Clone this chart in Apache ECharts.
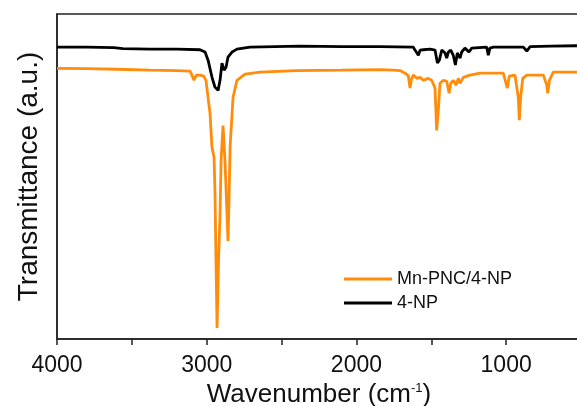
<!DOCTYPE html>
<html>
<head>
<meta charset="utf-8">
<script src="https://cdn.jsdelivr.net/npm/echarts@6/dist/echarts.min.js"></script>
<style>
html, body { margin: 0; padding: 0; background: #fff; }
#chart { width: 577px; height: 406px; }
</style>
</head>
<body>
<div id="chart"></div>
<script>
// wavenumber (cm-1) and transmittance (a.u.)
var npWave = [4000, 3800, 3620, 3560, 3379, 3200, 3045, 3011, 2991, 2965, 2945, 2924, 2911, 2898, 2884, 2871, 2858, 2831, 2798, 2711, 2377, 2100, 1842, 1620, 1609, 1586, 1575, 1553, 1508, 1475, 1459, 1446, 1430, 1408, 1397, 1386, 1370, 1353, 1339, 1326, 1308, 1297, 1275, 1248, 1230, 1130, 1119, 1108, 1085, 885, 862, 840, 700, 500];
var npValue = [89.8, 89.8, 89.65, 89.35, 89.2, 89.2, 89.0, 88.3, 85.8, 80.6, 77.5, 76.5, 79.6, 84.9, 82.7, 83.6, 86.7, 88.3, 89.2, 89.8, 90.1, 89.95, 89.95, 89.8, 88.9, 87.3, 88.9, 89.0, 89.2, 88.9, 84.9, 85.8, 88.9, 88.0, 86.4, 88.3, 88.9, 87.3, 84.3, 88.0, 86.4, 88.3, 89.5, 88.3, 89.5, 89.8, 87.3, 89.5, 89.8, 89.8, 88.6, 89.95, 90.1, 90.25];

var mnWave = [4000, 3800, 3600, 3379, 3200, 3110, 3085, 3070, 3045, 3020, 3005, 2978, 2965, 2951, 2945, 2938, 2931, 2921, 2911, 2904, 2891, 2878, 2864, 2858, 2851, 2844, 2824, 2798, 2744, 2644, 2400, 2100, 1842, 1753, 1709, 1675, 1653, 1642, 1631, 1620, 1597, 1575, 1553, 1520, 1497, 1475, 1464, 1453, 1442, 1420, 1397, 1381, 1370, 1353, 1335, 1319, 1308, 1286, 1241, 1174, 1019, 1001, 992, 979, 941, 919, 912, 903, 889, 862, 751, 729, 722, 711, 685, 500];
var mnValue = [83.3, 83.2, 83.0, 82.7, 82.6, 82.4, 79.6, 81.2, 81.2, 80.9, 79.6, 69.4, 59.0, 55.9, 45.7, 24.1, 3.4, 24.1, 38.6, 54.9, 65.7, 54.9, 38.0, 30.2, 42.6, 59.0, 74.4, 79.6, 81.5, 82.1, 82.6, 82.7, 82.9, 82.7, 82.6, 81.8, 80.9, 77.2, 80.2, 81.2, 80.2, 80.5, 79.6, 80.2, 79.6, 77.2, 64.2, 70.4, 78.7, 79.6, 79.3, 75.6, 78.7, 79.6, 78.1, 80.2, 78.7, 80.5, 81.2, 81.8, 81.8, 78.7, 77.2, 80.9, 81.2, 74.4, 67.3, 74.4, 80.2, 81.2, 81.2, 78.1, 75.6, 79.6, 82.1, 82.1];

var seriesNames = ['Mn-PNC/4-NP', '4-NP'];

function pairs(xs, ys) {
    return xs.map(function (x, i) { return [x, ys[i]]; });
}

var myChart = echarts.init(document.getElementById('chart'));
var font = 'Liberation Sans, Arial, sans-serif';

var option = {
    animation: false,
    textStyle: { fontFamily: font },
    grid: {
        left: 57,
        right: -4,
        top: 14,
        bottom: 67,
        outerBoundsMode: 'none',
        containLabel: false,
        show: true,
        borderColor: '#222',
        borderWidth: 1.5
    },
    legend: {
        data: seriesNames,
        orient: 'vertical',
        left: 344,
        top: 269,
        padding: 0,
        icon: 'rect',
        itemWidth: 48,
        itemHeight: 3,
        itemGap: 4,
        textStyle: {
            fontFamily: font,
            fontSize: 18,
            lineHeight: 20,
            color: '#111'
        }
    },
    xAxis: {
        type: 'value',
        min: 500,
        max: 4000,
        interval: 500,
        inverse: true,
        name: 'Wavenumber (cm{sup|-1})',
        nameLocation: 'middle',
        nameGap: 40,
        nameTextStyle: {
            fontFamily: font,
            fontSize: 26,
            color: '#111',
            rich: {
                sup: { fontSize: 13, verticalAlign: 'top', padding: [0, 0, 12, 0], color: '#111' }
            }
        },
        axisLine: { lineStyle: { color: '#222', width: 1.5 } },
        axisTick: { length: 6, lineStyle: { color: '#222', width: 1.5 } },
        axisLabel: {
            margin: 15,
            fontSize: 23,
            color: '#111',
            formatter: function (v) { return v % 1000 === 0 ? String(v) : ''; }
        },
        splitLine: { show: false }
    },
    yAxis: {
        type: 'value',
        min: 0,
        max: 100,
        name: 'Transmittance (a.u.)',
        nameLocation: 'middle',
        nameGap: 14,
        nameTextStyle: { fontFamily: font, fontSize: 28, color: '#111' },
        axisLine: { show: true, lineStyle: { color: '#222', width: 1.5 } },
        axisTick: { show: false },
        axisLabel: { show: false },
        splitLine: { show: false }
    },
    series: [
        {
            name: seriesNames[0],
            type: 'line',
            data: pairs(mnWave, mnValue),
            showSymbol: false,
            symbol: 'none',
            lineStyle: { color: '#ff8c0a', width: 2.8 },
            itemStyle: { color: '#ff8c0a' }
        },
        {
            name: seriesNames[1],
            type: 'line',
            data: pairs(npWave, npValue),
            showSymbol: false,
            symbol: 'none',
            lineStyle: { color: '#000', width: 2.8 },
            itemStyle: { color: '#000' }
        }
    ]
};

myChart.setOption(option);
</script>
</body>
</html>
